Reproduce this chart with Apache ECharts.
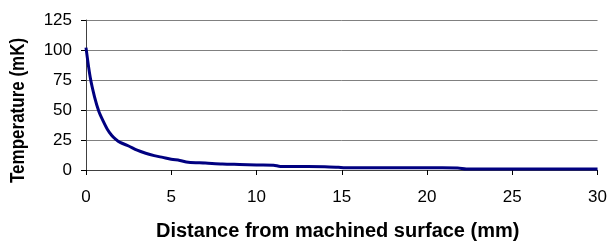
<!DOCTYPE html>
<html>
<head>
<meta charset="utf-8">
<script src="https://cdn.jsdelivr.net/npm/echarts@6/dist/echarts.min.js"></script>
<style>
  html, body { margin: 0; padding: 0; background: #fff; }
  #chart { width: 610px; height: 246px; }
</style>
</head>
<body>
<div id="chart"></div>
<script>
// 距离 (mm) 与 温度 (mK)
var distance = [0, 0.25, 0.5, 0.75, 1, 1.25, 1.5, 1.75, 2, 2.5, 3, 3.5, 4, 4.5, 5, 5.5, 6, 7, 8, 9, 10, 11, 11.4, 12, 13, 14, 14.8, 15.2, 16, 18, 20, 21.8, 22.3, 24, 26, 28, 30];
var temperature = [102, 77, 61, 49, 41, 34, 29, 25.5, 23, 20, 16.5, 14, 12, 10.5, 9, 8, 6.5, 5.8, 5, 4.6, 4.2, 4, 3, 3, 3, 2.8, 2.2, 1.8, 1.8, 1.8, 1.8, 1.7, 0.9, 0.9, 0.9, 0.9, 0.9];
var xTicks = [0, 5, 10, 15, 20, 25, 30];
var yTicks = [0, 25, 50, 75, 100, 125];

window.onload = function() {
    var myChart = echarts.init(document.getElementById('chart'));
    var points = distance.map(function(d, i) { return [d, temperature[i]]; });
    var option = {
        animation: false,
        grid: { left: 86, right: 12, top: 20, bottom: 76 },
        xAxis: {
            type: 'value',
            min: xTicks[0],
            max: xTicks[xTicks.length - 1],
            interval: 5,
            axisLine: { show: true, lineStyle: { color: '#404040', width: 1 } },
            axisTick: { show: true, length: 5, lineStyle: { color: '#000' } },
            axisLabel: { color: '#000', fontSize: 17, fontFamily: 'Liberation Sans', margin: 19 },
            splitLine: { show: false }
        },
        yAxis: {
            type: 'value',
            min: yTicks[0],
            max: yTicks[yTicks.length - 1],
            interval: 25,
            axisLine: { show: true, lineStyle: { color: '#404040', width: 1 } },
            axisTick: { show: true, length: 5, lineStyle: { color: '#000' } },
            axisLabel: { color: '#000', fontSize: 17, fontFamily: 'Liberation Sans', margin: 14 },
            splitLine: { show: true, lineStyle: { color: '#808080', width: 1 } }
        },
        graphic: [{
            type: 'text',
            x: 156,
            y: 221,
            style: { text: 'Distance from machined surface (mm)', font: 'bold 20px "Liberation Sans"', fill: '#000' }
        }, {
            type: 'text',
            x: 8,
            y: 183,
            rotation: Math.PI / 2,
            scaleX: 0.85,
            style: { text: 'Temperature (mK)', font: 'bold 20px "Liberation Sans"', fill: '#000', textAlign: 'left', textVerticalAlign: 'top' }
        }],
        series: [{
            type: 'line',
            data: points,
            showSymbol: false,
            smooth: 0.3,
            lineStyle: { color: '#000080', width: 3 }
        }]
    };
    myChart.setOption(option);
};
</script>
</body>
</html>
